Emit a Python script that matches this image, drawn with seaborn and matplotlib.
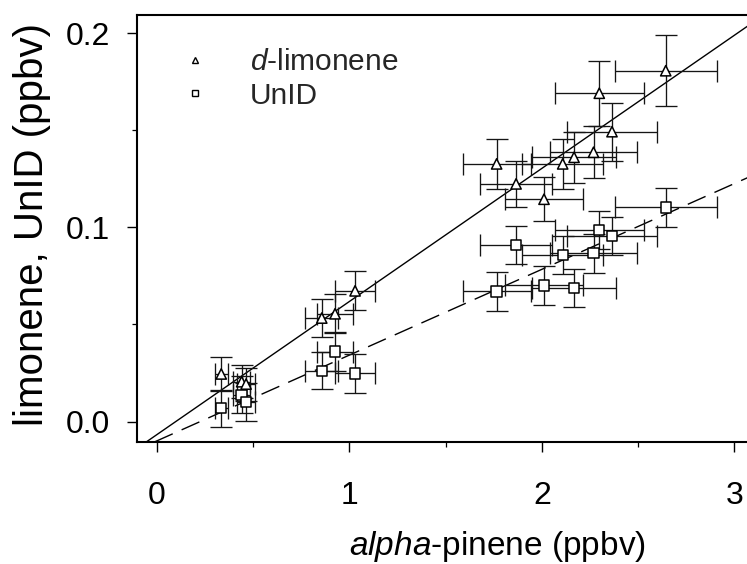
import matplotlib
matplotlib.use("Agg")
import matplotlib.pyplot as plt
import numpy as np
import pandas as pd
import seaborn as sns
from matplotlib.lines import Line2D
from matplotlib.ticker import MultipleLocator

# ---- data ----
alpha_pinene = [0.335, 0.441, 0.464, 0.857, 0.926, 1.030, 1.765, 1.866, 2.011,
                2.108, 2.167, 2.268, 2.298, 2.364, 2.643]
alpha_pinene_err = [0.034, 0.044, 0.046, 0.086, 0.093, 0.103, 0.177, 0.187, 0.201,
                    0.211, 0.217, 0.227, 0.230, 0.236, 0.264]
limonene = [0.0245, 0.0205, 0.0193, 0.0533, 0.0555, 0.0673, 0.1327, 0.1224, 0.1145,
            0.1327, 0.1361, 0.1387, 0.1691, 0.1493, 0.1807]
limonene_err = [0.0086, 0.0085, 0.0085, 0.0098, 0.0100, 0.0100, 0.0130, 0.0120, 0.0112,
                0.0130, 0.0130, 0.0135, 0.0167, 0.0150, 0.0182]
unid = [0.0068, 0.0137, 0.0102, 0.0262, 0.0360, 0.0248, 0.0670, 0.0909, 0.0701,
        0.0858, 0.0688, 0.0867, 0.0987, 0.0956, 0.1103]
unid_err = [0.0095, 0.0095, 0.0098, 0.0096, 0.0100, 0.0099, 0.0099, 0.0100, 0.0100,
            0.0100, 0.0099, 0.0100, 0.0100, 0.0100, 0.0100]
# regression lines: slope, intercept
fit_limonene = [0.0686, -0.0068]
fit_unid = [0.0442, -0.0100]

series_labels = ["$\\it{d}$-limonene", "UnID"]
x_ticks = [0, 1, 2, 3]
x_tick_labels = ["0", "1", "2", "3"]
y_ticks = [0.0, 0.1, 0.2]
y_tick_labels = ["0.0", "0.1", "0.2"]
x_label = "$\\it{alpha}$-pinene (ppbv)"
y_label = "limonene, UnID (ppbv)"

df = pd.DataFrame({
    "x": alpha_pinene + alpha_pinene,
    "xerr": alpha_pinene_err + alpha_pinene_err,
    "y": limonene + unid,
    "yerr": limonene_err + unid_err,
    "series": ["limonene"] * len(limonene) + ["unid"] * len(unid),
})

sns.set_theme(style="ticks")
plt.rcParams["font.family"] = ["Liberation Sans", "DejaVu Sans"]
plt.rcParams["mathtext.fontset"] = "custom"
plt.rcParams["mathtext.rm"] = "Liberation Sans"
plt.rcParams["mathtext.it"] = "Liberation Sans:italic"

fig = plt.figure(figsize=(7.47, 5.64), dpi=100)
ax = fig.add_axes([0.1840, 0.2168, 0.8508, 0.7566])

# error bars
ax.errorbar(df["x"], df["y"], xerr=df["xerr"], yerr=df["yerr"], fmt="none",
            ecolor="#151515", elinewidth=0.95, capsize=8, capthick=0.95, zorder=2)

# regression lines
ax.axline((0, fit_limonene[1]), slope=fit_limonene[0], color="black", lw=1.0, zorder=1)
ax.axline((0, fit_unid[1]), slope=fit_unid[0], color="black", lw=1.0,
          dashes=(14, 7), zorder=1)

# markers
sns.scatterplot(data=df, x="x", y="y", style="series",
                markers={"limonene": "^", "unid": "s"}, s=55,
                facecolor="white", edgecolor="black", linewidth=1.1,
                legend=False, ax=ax, zorder=3)

ax.set_xlim(-0.1, 3.2)
ax.set_ylim(-0.0104, 0.2094)
ax.set_xticks(x_ticks)
ax.set_xticklabels(x_tick_labels)
ax.set_yticks(y_ticks)
ax.set_yticklabels(y_tick_labels)
ax.xaxis.set_minor_locator(MultipleLocator(0.5))
ax.yaxis.set_minor_locator(MultipleLocator(0.05))
ax.tick_params(which="major", direction="out", length=7, width=1.0, color="black",
               labelsize=23, labelcolor="black")
ax.tick_params(which="minor", direction="out", length=3.5, width=0.9, color="black")
ax.tick_params(axis="x", which="major", pad=21)
ax.tick_params(axis="y", which="major", pad=13)
for sp in ax.spines.values():
    sp.set_linewidth(1.5)
    sp.set_color("black")

ax.set_xlabel(x_label, fontsize=24, color="black")
ax.set_ylabel(y_label, fontsize=29, color="black")
ax.xaxis.set_label_coords(0.566, -0.205)
ax.yaxis.set_label_coords(-0.136, 0.508)

handles = [
    Line2D([], [], marker="^", ls="none", mfc="white", mec="black", ms=5, mew=1.0),
    Line2D([], [], marker="s", ls="none", mfc="white", mec="black", ms=5, mew=1.0),
]
ax.legend(handles, series_labels, loc="upper left", bbox_to_anchor=(0.0669, 0.922),
          frameon=False, fontsize=21.5, handlelength=1.0, handletextpad=1.33,
          borderpad=0, borderaxespad=0, labelspacing=0.18)

fig.savefig("out.png", dpi=100)
